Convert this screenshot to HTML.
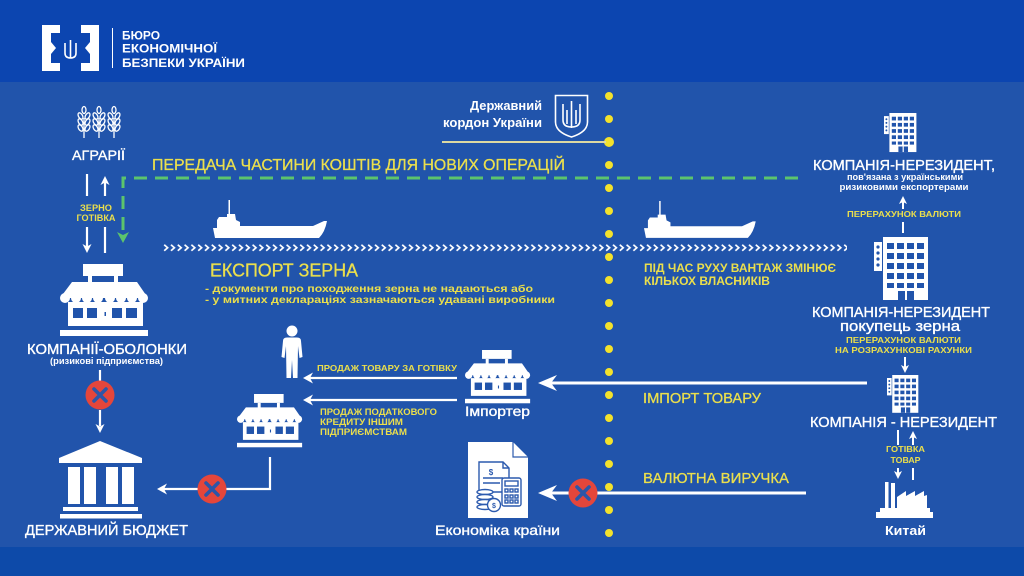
<!DOCTYPE html>
<html><head><meta charset="utf-8"><style>
html,body{margin:0;padding:0;background:#2154ab;}
svg{display:block;}
text{font-family:"Liberation Sans","DejaVu Sans",sans-serif;}
.w{fill:#fff;stroke:#fff;stroke-width:0.35;}
.wb{fill:#fff;font-weight:bold;}
.y{fill:#ebdf4c;stroke:#ebdf4c;stroke-width:0.3;}
.yb{fill:#ebdf4c;font-weight:bold;}
</style></head><body>
<svg width="1024" height="576" viewBox="0 0 1024 576" xmlns="http://www.w3.org/2000/svg">
<defs>
  <g id="shop">
    <rect x="23" y="0" width="40" height="12" fill="#fff"/>
    <rect x="28" y="12" width="4" height="7" fill="#fff"/>
    <rect x="54" y="12" width="4" height="7" fill="#fff"/>
    <polygon points="12,18 77,18 88,34 0,34" fill="#fff"/>
    <g fill="#fff"><circle cx="5" cy="34" r="5"/><circle cx="16" cy="34" r="5"/><circle cx="27" cy="34" r="5"/><circle cx="38" cy="34" r="5"/><circle cx="50" cy="34" r="5"/><circle cx="61" cy="34" r="5"/><circle cx="72" cy="34" r="5"/><circle cx="83" cy="34" r="5"/></g>
    <rect x="8" y="38" width="75" height="24" fill="#fff"/>
    <g fill="#2154ab"><rect x="13" y="44" width="10" height="10"/><rect x="27" y="44" width="10" height="10"/><rect x="52" y="44" width="10" height="10"/><rect x="66" y="44" width="11" height="10"/><rect x="44.5" y="48" width="1.5" height="4"/></g>
    <rect x="0" y="66" width="88" height="6" fill="#fff"/>
  </g>
  <g id="bld">
    <rect x="0" y="5" width="8" height="29" fill="#fff"/>
    <g fill="#2154ab"><circle cx="4" cy="10" r="1.6"/><circle cx="4" cy="16" r="1.6"/><circle cx="4" cy="22" r="1.6"/><circle cx="4" cy="28" r="1.6"/></g>
    <rect x="9" y="0" width="45" height="63" fill="#fff"/>
    <g fill="#2154ab">
      <rect x="13" y="6" width="7" height="6"/><rect x="23" y="6" width="7" height="6"/><rect x="33" y="6" width="7" height="6"/><rect x="43" y="6" width="7" height="6"/>
      <rect x="13" y="16" width="7" height="6"/><rect x="23" y="16" width="7" height="6"/><rect x="33" y="16" width="7" height="6"/><rect x="43" y="16" width="7" height="6"/>
      <rect x="13" y="26" width="7" height="6"/><rect x="23" y="26" width="7" height="6"/><rect x="33" y="26" width="7" height="6"/><rect x="43" y="26" width="7" height="6"/>
      <rect x="13" y="36" width="7" height="6"/><rect x="23" y="36" width="7" height="6"/><rect x="33" y="36" width="7" height="6"/><rect x="43" y="36" width="7" height="6"/>
      <rect x="13" y="46" width="7" height="5"/><rect x="23" y="46" width="7" height="5"/><rect x="33" y="46" width="7" height="5"/><rect x="43" y="46" width="7" height="5"/>
      <rect x="24" y="54" width="16" height="9"/>
    </g>
    <rect x="31" y="54" width="2" height="9" fill="#fff"/>
  </g>
  <path id="ship" d="M2,38 L0,28 L4,28 L4,20 L6,17 L14,17 L14,14 L15.5,14 L15.5,0 L17,0 L17,14 L22,14 L23,20 L27,22 L27,26 L100,26 L111,21 L114,21 Q112,32 106,38 Z" fill="#fff"/>
  <pattern id="chev" x="163" y="244" width="6.8" height="9" patternUnits="userSpaceOnUse">
    <path d="M1.2,0.8 L4.6,3.8 L1.2,6.8" stroke="#fff" stroke-width="1.7" fill="none"/>
  </pattern>
  <g id="redx">
    <circle cx="0" cy="0" r="14.5" fill="#e4463b"/>
    <path d="M-6,-6 L6,6 M6,-6 L-6,6" stroke="#2c56a8" stroke-width="3.6" stroke-linecap="round"/>
  </g>
  <g id="wheat" fill="none" stroke="#fff" stroke-width="1.3">
    <line x1="0" y1="10" x2="0" y2="30"/>
    <ellipse cx="0" cy="2" rx="2" ry="3.5"/>
    <ellipse cx="-3.5" cy="8" rx="2" ry="3.5" transform="rotate(-30 -3.5 8)"/>
    <ellipse cx="3.5" cy="8" rx="2" ry="3.5" transform="rotate(30 3.5 8)"/>
    <ellipse cx="-3.5" cy="14" rx="2" ry="3.5" transform="rotate(-30 -3.5 14)"/>
    <ellipse cx="3.5" cy="14" rx="2" ry="3.5" transform="rotate(30 3.5 14)"/>
    <ellipse cx="-3.5" cy="20" rx="2" ry="3.5" transform="rotate(-30 -3.5 20)"/>
    <ellipse cx="3.5" cy="20" rx="2" ry="3.5" transform="rotate(30 3.5 20)"/>
  </g>
</defs>

<!-- backgrounds -->
<rect x="0" y="0" width="1024" height="576" fill="#2154ab"/>
<rect x="0" y="0" width="1024" height="82" fill="#0c45b0"/>
<rect x="0" y="547" width="1024" height="29" fill="#0d4aa9"/>

<!-- header logo -->
<path d="M42,25 H60 V33 H51 V63 H60 V71 H42 Z" fill="#fff"/>
<path d="M99,25 H81 V33 H90 V63 H81 V71 H99 Z" fill="#fff"/>
<polygon points="51,42 56,48 51,54" fill="#fff"/>
<polygon points="90,42 85,48 90,54" fill="#fff"/>
<path d="M70.5,40 V58 M65,43 V53 Q65,58 70.5,58 Q76,58 76,53 V43" stroke="#fff" stroke-width="1.6" fill="none"/>
<line x1="112.5" y1="28" x2="112.5" y2="68" stroke="#fff" stroke-width="1"/>
<text class="wb" x="122" y="39.5" font-size="12" textLength="38" lengthAdjust="spacingAndGlyphs">БЮРО</text>
<text class="wb" x="122" y="52.5" font-size="12" textLength="95" lengthAdjust="spacingAndGlyphs">ЕКОНОМІЧНОЇ</text>
<text class="wb" x="122" y="67" font-size="12" textLength="123" lengthAdjust="spacingAndGlyphs">БЕЗПЕКИ УКРАЇНИ</text>

<!-- border dotted line -->
<g fill="#f3e22c">
  <circle cx="609" cy="96" r="4"/><circle cx="609" cy="119" r="4"/><circle cx="609" cy="142" r="5"/><circle cx="609" cy="165" r="4"/>
  <circle cx="609" cy="188" r="4"/><circle cx="609" cy="211" r="4"/><circle cx="609" cy="234" r="4"/><circle cx="609" cy="257" r="4"/>
  <circle cx="609" cy="280" r="4"/><circle cx="609" cy="303" r="4"/><circle cx="609" cy="326" r="4"/><circle cx="609" cy="349" r="4"/>
  <circle cx="609" cy="372" r="4"/><circle cx="609" cy="395" r="4"/><circle cx="609" cy="418" r="4"/><circle cx="609" cy="441" r="4"/>
  <circle cx="609" cy="464" r="4"/><circle cx="609" cy="487" r="4"/><circle cx="609" cy="510" r="4"/><circle cx="609" cy="533" r="4"/>
</g>
<line x1="442" y1="142" x2="606" y2="142" stroke="#dcd9a2" stroke-width="2"/>
<text class="wb" x="542" y="110" font-size="12.5" text-anchor="end" textLength="72" lengthAdjust="spacingAndGlyphs">Державний</text>
<text class="wb" x="542" y="127" font-size="12.5" text-anchor="end" textLength="99" lengthAdjust="spacingAndGlyphs">кордон України</text>
<path d="M555.5,95.5 H587.5 V122 Q587.5,132 571.5,137 Q555.5,132 555.5,122 Z" fill="none" stroke="#fff" stroke-width="1.6"/>
<path d="M571.5,101 V128 M563,104 V120 Q563,127 571.5,127 Q580,127 580,120 V104 M567,110 V124 M576,110 V124" fill="none" stroke="#fff" stroke-width="1.6"/>

<!-- left: agrarians -->
<use href="#wheat" x="84" y="108"/>
<use href="#wheat" x="99" y="108"/>
<use href="#wheat" x="114" y="108"/>
<text class="w" x="72" y="160" font-size="14" textLength="53" lengthAdjust="spacingAndGlyphs">АГРАРІЇ</text>
<g stroke="#fff" stroke-width="2.2" fill="none">
  <line x1="87" y1="174" x2="87" y2="196"/>
  <line x1="87" y1="227" x2="87" y2="247"/>
  <line x1="105" y1="182" x2="105" y2="196"/>
  <line x1="105" y1="227" x2="105" y2="253"/>
</g>
<polygon points="87,253 82.5,244 87,246.5 91.5,244" fill="#fff"/>
<polygon points="105,176 100.5,185 105,182.5 109.5,185" fill="#fff"/>
<text class="yb" x="96" y="211" font-size="9" text-anchor="middle" textLength="32" lengthAdjust="spacingAndGlyphs">ЗЕРНО</text>
<text class="yb" x="96" y="221" font-size="9" text-anchor="middle" textLength="39" lengthAdjust="spacingAndGlyphs">ГОТІВКА</text>

<!-- green dashed -->
<path d="M123,230 V178 H800" fill="none" stroke="#5cc46c" stroke-width="3" stroke-dasharray="13 8"/>
<polygon points="123,243 117,232 123,235 129,232" fill="#5cc46c"/>
<text class="y" x="152" y="170" font-size="16" textLength="413" lengthAdjust="spacingAndGlyphs">ПЕРЕДАЧА ЧАСТИНИ КОШТІВ ДЛЯ НОВИХ ОПЕРАЦІЙ</text>

<!-- ships & chevrons -->
<use href="#ship" x="213" y="200"/>
<use href="#ship" x="644" y="201" transform="translate(644 201) scale(0.98 0.97) translate(-644 -201)"/>
<rect x="163" y="244" width="684" height="8" fill="url(#chev)"/>

<text class="y" x="210" y="276.5" font-size="18" textLength="148" lengthAdjust="spacingAndGlyphs">ЕКСПОРТ ЗЕРНА</text>
<text class="yb" x="205" y="292" font-size="10.5" textLength="328" lengthAdjust="spacingAndGlyphs">- документи про походження зерна не надаються або</text>
<text class="yb" x="205" y="303" font-size="10.5" textLength="350" lengthAdjust="spacingAndGlyphs">- у митних деклараціях зазначаються удавані виробники</text>

<text class="yb" x="644" y="272" font-size="12" textLength="192" lengthAdjust="spacingAndGlyphs">ПІД ЧАС РУХУ ВАНТАЖ ЗМІНЮЄ</text>
<text class="yb" x="644" y="285" font-size="12" textLength="126" lengthAdjust="spacingAndGlyphs">КІЛЬКОХ ВЛАСНИКІВ</text>

<!-- right column -->
<use href="#bld" transform="translate(884 113) scale(0.6 0.62)"/>
<text class="w" x="813" y="170" font-size="14.5" textLength="182" lengthAdjust="spacingAndGlyphs">КОМПАНІЯ-НЕРЕЗИДЕНТ,</text>
<text class="wb" x="905" y="180" font-size="9.5" text-anchor="middle" textLength="116" lengthAdjust="spacingAndGlyphs">пов'язана з українськими</text>
<text class="wb" x="904" y="190" font-size="9.5" text-anchor="middle" textLength="129" lengthAdjust="spacingAndGlyphs">ризиковими експортерами</text>
<line x1="903" y1="201" x2="903" y2="209" stroke="#fff" stroke-width="2"/>
<polygon points="903,196 899,204 903,202 907,204" fill="#fff"/>
<text class="yb" x="904" y="217" font-size="8.5" text-anchor="middle" textLength="114" lengthAdjust="spacingAndGlyphs">ПЕРЕРАХУНОК ВАЛЮТИ</text>
<line x1="903" y1="222" x2="903" y2="233" stroke="#fff" stroke-width="2"/>

<use href="#bld" transform="translate(874 237)"/>
<text class="w" x="812" y="317" font-size="14.5" textLength="178" lengthAdjust="spacingAndGlyphs">КОМПАНІЯ-НЕРЕЗИДЕНТ</text>
<text class="w" x="840" y="331" font-size="14.5" textLength="120" lengthAdjust="spacingAndGlyphs">покупець зерна</text>
<text class="yb" x="903.5" y="343" font-size="8.5" text-anchor="middle" textLength="115" lengthAdjust="spacingAndGlyphs">ПЕРЕРАХУНОК ВАЛЮТИ</text>
<text class="yb" x="903.5" y="353" font-size="8.5" text-anchor="middle" textLength="137" lengthAdjust="spacingAndGlyphs">НА РОЗРАХУНКОВІ РАХУНКИ</text>
<line x1="905" y1="357" x2="905" y2="367" stroke="#fff" stroke-width="2"/>
<polygon points="905,373 901,365 905,367 909,365" fill="#fff"/>

<use href="#bld" transform="translate(887 375) scale(0.58 0.6)"/>
<text class="w" x="810" y="427" font-size="14.5" textLength="187" lengthAdjust="spacingAndGlyphs">КОМПАНІЯ - НЕРЕЗИДЕНТ</text>
<g stroke="#fff" stroke-width="2">
  <line x1="898" y1="430" x2="898" y2="445"/>
  <line x1="898" y1="468" x2="898" y2="474"/>
  <line x1="913" y1="437" x2="913" y2="445"/>
  <line x1="913" y1="468" x2="913" y2="480"/>
</g>
<polygon points="898,479 894,471 898,473 902,471" fill="#fff"/>
<polygon points="913,431 909,439 913,437 917,439" fill="#fff"/>
<text class="yb" x="905.5" y="452" font-size="8.5" text-anchor="middle" textLength="39" lengthAdjust="spacingAndGlyphs">ГОТІВКА</text>
<text class="yb" x="905.5" y="463" font-size="8.5" text-anchor="middle" textLength="30" lengthAdjust="spacingAndGlyphs">ТОВАР</text>

<!-- factory -->
<g fill="#fff">
  <rect x="885" y="482" width="3.5" height="30"/>
  <rect x="891" y="483" width="4" height="29"/>
  <polygon points="897,497 906,491 906,496 915,491 915,496 924,491 924,496 927,495 927,512 897,512"/>
  <rect x="880" y="508" width="50" height="5"/>
  <rect x="876" y="512" width="57" height="6"/>
</g>
<text class="wb" x="905.5" y="535" font-size="13" text-anchor="middle" textLength="41" lengthAdjust="spacingAndGlyphs">Китай</text>

<!-- import & currency arrows -->
<line x1="548" y1="383" x2="867" y2="383" stroke="#fff" stroke-width="3"/>
<polygon points="538,383 557,375 551,383 557,391" fill="#fff"/>
<text class="y" x="643" y="403" font-size="15" textLength="118" lengthAdjust="spacingAndGlyphs">ІМПОРТ ТОВАРУ</text>
<line x1="548" y1="493" x2="806" y2="493" stroke="#fff" stroke-width="3"/>
<polygon points="538,493 557,485 551,493 557,501" fill="#fff"/>
<use href="#redx" x="583" y="493"/>
<text class="y" x="643" y="483" font-size="15" textLength="146" lengthAdjust="spacingAndGlyphs">ВАЛЮТНА ВИРУЧКА</text>

<!-- importer -->
<use href="#shop" transform="translate(465 350) scale(0.74)"/>
<text class="w" x="465" y="416" font-size="13.5" textLength="65" lengthAdjust="spacingAndGlyphs">Імпортер</text>

<!-- economy doc -->
<path d="M468,442 H513 L528,457 V518 H468 Z" fill="#fff"/>
<path d="M513,442 V457 H528" fill="none" stroke="#2c5aae" stroke-width="1.2"/>
<g fill="none" stroke="#2c5aae" stroke-width="1.4">
  <path d="M479,462 H503 L509,468 V492 H479 Z"/>
  <path d="M503,462 V468 H509"/>
  <line x1="483" y1="478" x2="503" y2="478"/>
  <line x1="483" y1="483" x2="500" y2="483"/>
  <rect x="502" y="478" width="19" height="28" rx="2" fill="#fff"/>
  <rect x="505" y="481" width="13" height="5"/>
  <rect x="505" y="489" width="3" height="3"/><rect x="510" y="489" width="3" height="3"/><rect x="515" y="489" width="3" height="3"/>
  <rect x="505" y="495" width="3" height="3"/><rect x="510" y="495" width="3" height="3"/><rect x="515" y="495" width="3" height="3"/>
  <rect x="505" y="500" width="3" height="3"/><rect x="510" y="500" width="3" height="3"/><rect x="515" y="500" width="3" height="3"/>
  <ellipse cx="485" cy="492" rx="8" ry="2.5" fill="#fff"/>
  <ellipse cx="485" cy="497" rx="8" ry="2.5" fill="#fff"/>
  <ellipse cx="485" cy="502" rx="8" ry="2.5" fill="#fff"/>
  <ellipse cx="485" cy="507" rx="8" ry="2.5" fill="#fff"/>
  <circle cx="494" cy="505" r="6.5" fill="#fff"/>
</g>
<text x="491" y="475" font-size="8" fill="#2c5aae" font-weight="bold" text-anchor="middle">$</text>
<text x="494" y="508" font-size="7" fill="#2c5aae" font-weight="bold" text-anchor="middle">$</text>
<text class="w" x="435" y="535" font-size="13.5" textLength="125" lengthAdjust="spacingAndGlyphs">Економіка країни</text>

<!-- sales arrows -->
<line x1="309" y1="378" x2="457" y2="378" stroke="#fff" stroke-width="2.2"/>
<polygon points="303,378 313,372.5 310,378 313,383.5" fill="#fff"/>
<line x1="309" y1="400" x2="457" y2="400" stroke="#fff" stroke-width="2.2"/>
<polygon points="303,400 313,394.5 310,400 313,405.5" fill="#fff"/>
<text class="yb" x="317" y="371" font-size="8.5" textLength="140" lengthAdjust="spacingAndGlyphs">ПРОДАЖ ТОВАРУ ЗА ГОТІВКУ</text>
<text class="yb" x="320" y="415" font-size="9" textLength="117" lengthAdjust="spacingAndGlyphs">ПРОДАЖ ПОДАТКОВОГО</text>
<text class="yb" x="320" y="425" font-size="9" textLength="83" lengthAdjust="spacingAndGlyphs">КРЕДИТУ ІНШИМ</text>
<text class="yb" x="320" y="435" font-size="9" textLength="87" lengthAdjust="spacingAndGlyphs">ПІДПРИЄМСТВАМ</text>

<!-- person -->
<circle cx="292" cy="331" r="5.5" fill="#fff"/>
<path d="M283,341 Q283,337.5 287,337.5 H297 Q301,337.5 301,341 L302.5,357 L299.5,358 L298,346 L297.5,378 H293 L292,360 L291,378 H286.5 L286,346 L284.5,358 L281.5,357 Z" fill="#fff"/>

<!-- small shop -->
<use href="#shop" transform="translate(237 394) scale(0.74)"/>
<path d="M270,457 V489 H163" fill="none" stroke="#fff" stroke-width="2.2"/>
<polygon points="157,489 167,483.5 164,489 167,494.5" fill="#fff"/>
<use href="#redx" x="212" y="489"/>

<!-- left shell company -->
<use href="#shop" x="60" y="264"/>
<text class="w" x="27" y="354" font-size="14.5" textLength="160" lengthAdjust="spacingAndGlyphs">КОМПАНІЇ-ОБОЛОНКИ</text>
<text class="wb" x="50" y="364" font-size="9" textLength="113" lengthAdjust="spacingAndGlyphs">(ризикові підприємства)</text>
<line x1="100" y1="370" x2="100" y2="383" stroke="#fff" stroke-width="2.2"/>
<use href="#redx" x="100" y="395"/>
<line x1="100" y1="410" x2="100" y2="426" stroke="#fff" stroke-width="2.2"/>
<polygon points="100,433 95.5,424 100,426.5 104.5,424" fill="#fff"/>

<!-- bank -->
<g fill="#fff">
  <polygon points="100,441 142,458 142,463 59,463 59,458"/>
  <rect x="68" y="467" width="12" height="37"/>
  <rect x="84" y="467" width="12" height="37"/>
  <rect x="106" y="467" width="12" height="37"/>
  <rect x="122" y="467" width="12" height="37"/>
  <rect x="63" y="507" width="75" height="4"/>
  <rect x="60" y="514" width="82" height="4.5"/>
</g>
<text class="w" x="25" y="535" font-size="14.5" textLength="163" lengthAdjust="spacingAndGlyphs">ДЕРЖАВНИЙ БЮДЖЕТ</text>
</svg>
</body></html>
